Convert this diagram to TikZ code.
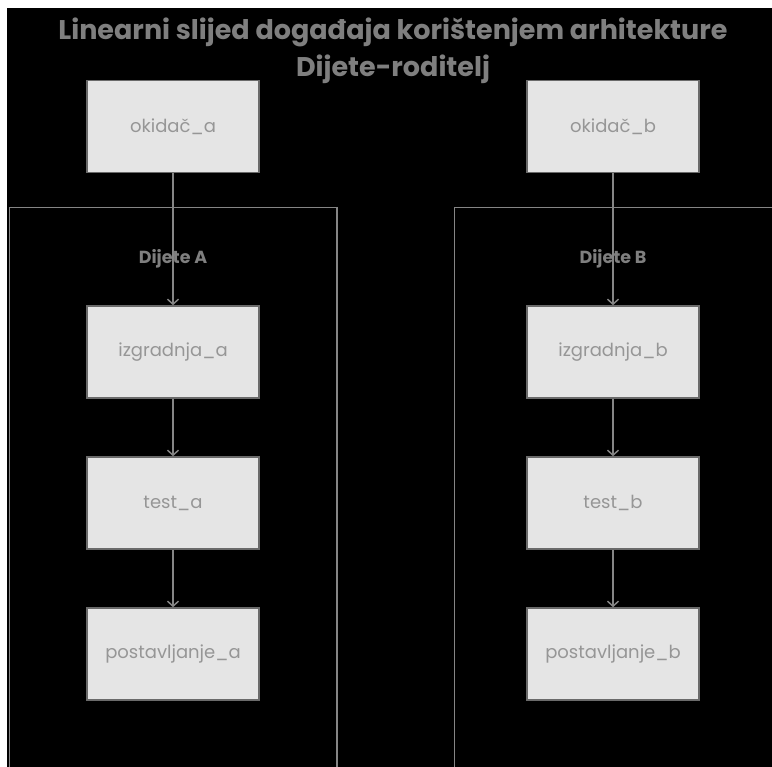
\documentclass[tikz,border=0pt]{standalone}
\usepackage{fontspec}
\setmainfont{Poppins}
\usetikzlibrary{arrows.meta}
\definecolor{titlegray}{HTML}{7F7F7F}
\definecolor{boxfill}{HTML}{E5E5E5}
\definecolor{boxdraw}{HTML}{6A6A6A}
\definecolor{boxtext}{HTML}{969696}
\definecolor{linegray}{HTML}{858585}
\tikzset{
  stepbox/.style={draw=boxdraw, line width=1.6pt, fill=boxfill, minimum width=172pt, minimum height=92pt, inner sep=0pt, text=boxtext, font=\fontsize{18}{21}\selectfont},
  clusterbox/.style={draw=linegray, line width=1.6pt},
  clusterlabel/.style={text=titlegray, font=\fontsize{17.5}{20}\selectfont\bfseries},
  flow/.style={draw=linegray, line width=1.5pt, -{Straight Barb[length=5pt,width=11pt]}},
}
\begin{document}
\begin{tikzpicture}[x=1pt,y=-1pt]
\useasboundingbox (0,0) rectangle (772,767);
\fill[white] (0,0) rectangle (772,767);
\fill[black] (7,8) rectangle (772,767);
\begin{scope}
  \clip (7,8) rectangle (772,767);
  \draw[clusterbox] (9.5,207.5) rectangle (337,800);
  \draw[clusterbox] (454.5,207.5) rectangle (800,800);
\end{scope}
\node[text=titlegray, font=\fontsize{27}{37}\selectfont\bfseries, align=center] (title) at (393,51) {Linearni slijed događaja korištenjem arhitekture\\Dijete-roditelj};
\node[clusterlabel] (labA) at (173,259) {Dijete A};
\node[clusterlabel] (labB) at (613,259) {Dijete B};
\node[stepbox] (oka) at (173,126.5) {okidač\_a};
\node[stepbox] (okb) at (613,126.5) {okidač\_b};
\node[stepbox] (iza) at (173,352) {izgradnja\_a};
\node[stepbox] (izb) at (613,352) {izgradnja\_b};
\node[stepbox] (tea) at (173,503) {test\_a};
\node[stepbox] (teb) at (613,503) {test\_b};
\node[stepbox] (poa) at (173,654) {postavljanje\_a};
\node[stepbox] (pob) at (613,654) {postavljanje\_b};
\draw[flow] (oka) -- (iza);
\draw[flow] (iza) -- (tea);
\draw[flow] (tea) -- (poa);
\draw[flow] (okb) -- (izb);
\draw[flow] (izb) -- (teb);
\draw[flow] (teb) -- (pob);
\end{tikzpicture}
\end{document}
